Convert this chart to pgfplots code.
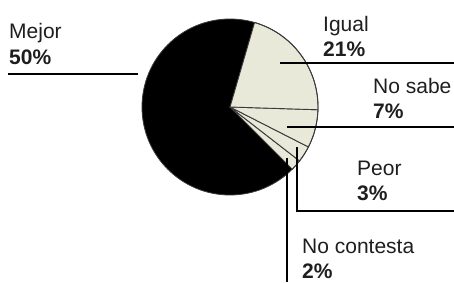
\documentclass[border=0pt]{standalone}
\usepackage{pgfplots}
\usepackage{pgfplotstable}
\pgfplotsset{compat=1.18}
\usepackage{fontspec}
\setmainfont{Liberation Sans}
\definecolor{pieBeige}{HTML}{E9E9DA}
\definecolor{lineGray}{HTML}{3A3A3A}
\definecolor{txt}{HTML}{1E1E1E}
\pgfplotstableread{
label value
NoContesta 2
Peor 3
NoSabe 7
Igual 21
}\slices
\begin{document}
\begin{tikzpicture}
\begin{axis}[name=ax, hide axis, scale only axis, width=454pt, height=282pt,
  xmin=0, xmax=454, ymin=0, ymax=282, clip=false]
\pgfplotsextra{
  \fill[black] (axis cs:230,175) circle[radius=88pt];
  \gdef\ang{-45}
  \pgfplotstableforeachcolumnelement{value}\of\slices\as\v{%
    \pgfmathsetmacro\angB{\ang+3.6*\v}%
    \filldraw[fill=pieBeige, draw=lineGray, line width=0.9pt]
      (axis cs:230,175) -- ++(\ang:88pt) arc[start angle=\ang, end angle=\angB, radius=88pt] -- cycle;%
    \global\let\ang\angB
  }
  \draw[lineGray, line width=0.8pt] (axis cs:230,175) circle[radius=88pt];
  % leader lines
  \draw[black, line width=1.1pt] (axis cs:8,208) -- (axis cs:138,208);
  \draw[black, line width=1.1pt] (axis cs:280,219) -- (axis cs:454,219);
  \draw[black, line width=1.1pt] (axis cs:287,155) -- (axis cs:454,155);
  \draw[black, line width=1.1pt] (axis cs:297,135) -- (axis cs:297,71) -- (axis cs:454,71);
  \draw[black, line width=1.1pt] (axis cs:287,124) -- (axis cs:287,0);
}
\tikzset{lab/.style={anchor=base west, inner sep=0pt, text=txt, font=\fontsize{21}{25}\selectfont}}
\node[lab] at (axis cs:9,244) {Mejor};
\node[lab, font=\fontsize{21}{25}\selectfont\bfseries] at (axis cs:9,218) {50\%};
\node[lab] at (axis cs:323,251) {Igual};
\node[lab, font=\fontsize{21}{25}\selectfont\bfseries] at (axis cs:323,226) {21\%};
\node[lab] at (axis cs:373,189) {No sabe};
\node[lab, font=\fontsize{21}{25}\selectfont\bfseries] at (axis cs:373,164) {7\%};
\node[lab] at (axis cs:357,107) {Peor};
\node[lab, font=\fontsize{21}{25}\selectfont\bfseries] at (axis cs:357,82) {3\%};
\node[lab] at (axis cs:302,29) {No contesta};
\node[lab, font=\fontsize{21}{25}\selectfont\bfseries] at (axis cs:302,4) {2\%};
\end{axis}
\pgfresetboundingbox
\path[use as bounding box] (ax.south west) rectangle (ax.north east);
\end{tikzpicture}
\end{document}
